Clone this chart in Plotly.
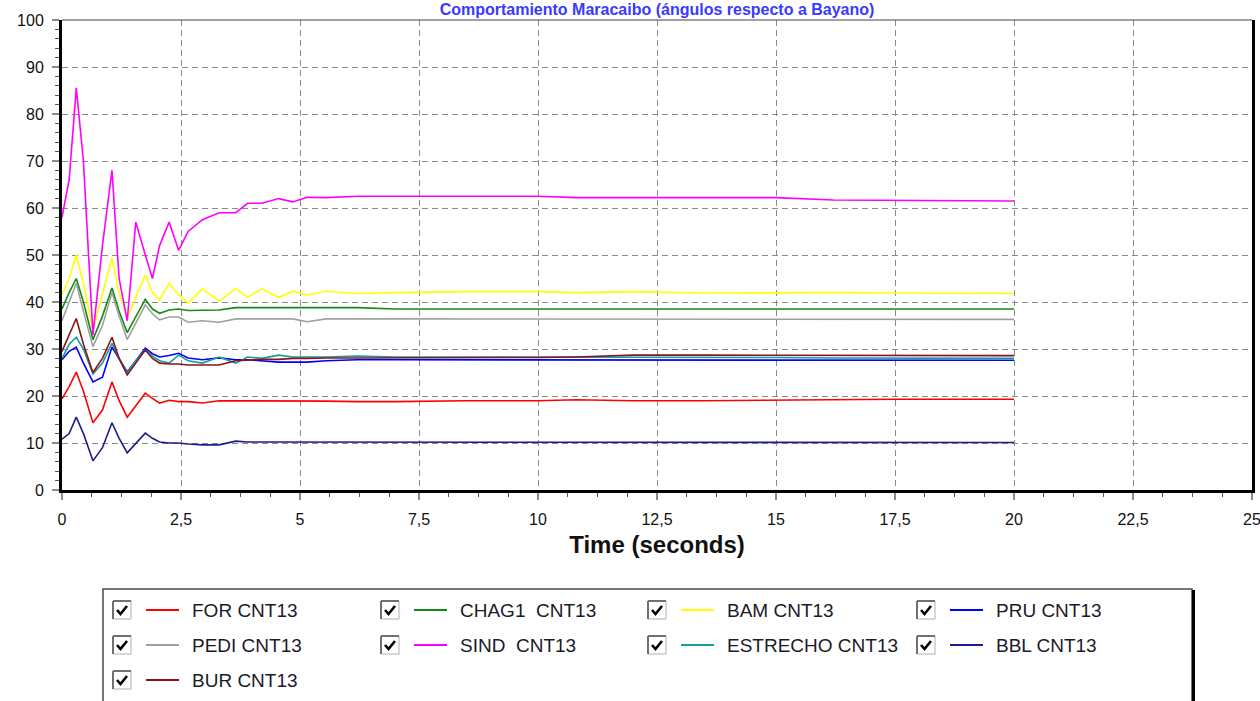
import plotly.graph_objects as go

# Sample times (s) shared by every series
time_s = [0.0, 0.15, 0.3, 0.45, 0.65, 0.85, 1.05, 1.2, 1.37, 1.55, 1.75, 1.9,
          2.05, 2.25, 2.45, 2.65, 2.95, 3.3, 3.65, 3.9, 4.2, 4.55, 4.85, 5.15,
          5.55, 6.2, 7.0, 8.5, 10.0, 10.8, 12.0, 13.5, 15.0, 16.2, 17.5, 20.0]

# Angle of each machine (degrees)
for_cnt13 = [19.4, 22.0, 25.1, 21.0, 14.3, 17.0, 23.0, 19.0, 15.5, 18.0, 20.6, 19.5,
             18.5, 19.1, 18.8, 18.8, 18.5, 19.0, 19.0, 19.0, 19.0, 19.0, 18.9, 18.9,
             18.9, 18.8, 18.8, 19.0, 19.0, 19.2, 19.0, 19.0, 19.1, 19.3, 19.3, 19.3]
chag1_cnt13 = [38.5, 42.0, 45.0, 40.0, 32.0, 37.0, 43.0, 38.0, 33.5, 37.0, 40.6, 38.5,
               37.6, 38.3, 38.5, 38.2, 38.3, 38.3, 38.8, 38.8, 38.8, 38.8, 38.8, 38.8,
               38.8, 38.8, 38.5, 38.5, 38.5, 38.5, 38.5, 38.5, 38.5, 38.5, 38.5, 38.5]
bam_cnt13 = [41.5, 45.0, 50.0, 44.0, 34.0, 42.0, 49.4, 42.0, 36.6, 41.0, 45.7, 42.0,
             40.4, 44.0, 41.5, 39.8, 42.8, 40.2, 42.8, 41.0, 42.8, 41.0, 42.3, 41.5,
             42.3, 41.8, 42.0, 42.2, 42.2, 42.0, 42.2, 41.9, 42.0, 42.0, 41.9, 41.8]
pru_cnt13 = [27.7, 29.5, 30.4, 27.0, 23.0, 24.0, 30.4, 28.0, 25.1, 27.5, 30.2, 29.0,
             28.3, 28.6, 29.1, 28.1, 27.7, 28.1, 27.7, 27.7, 27.5, 27.2, 27.2, 27.2,
             27.5, 27.7, 27.7, 27.7, 27.7, 27.6, 27.6, 27.6, 27.6, 27.6, 27.6, 27.6]
pedi_cnt13 = [36.0, 40.0, 44.0, 38.0, 30.5, 35.0, 42.0, 37.0, 32.0, 35.5, 39.4, 37.5,
              36.2, 36.8, 36.8, 35.7, 36.0, 35.7, 36.4, 36.4, 36.4, 36.4, 36.4, 35.8,
              36.4, 36.4, 36.4, 36.4, 36.4, 36.3, 36.3, 36.3, 36.3, 36.3, 36.3, 36.3]
sind_cnt13 = [58.0, 66.0, 85.5, 70.0, 33.0, 52.0, 68.0, 45.0, 36.0, 57.0, 50.0, 45.0,
              52.0, 57.0, 51.0, 55.0, 57.5, 59.0, 59.0, 61.0, 61.0, 62.0, 61.3, 62.3,
              62.2, 62.5, 62.5, 62.5, 62.5, 62.2, 62.2, 62.2, 62.2, 61.7, 61.6, 61.5]
estrecho_cnt13 = [28.0, 31.0, 32.5, 30.0, 24.7, 27.0, 31.2, 28.0, 24.9, 27.5, 29.8, 28.5,
                  27.5, 27.0, 28.7, 27.5, 27.0, 28.3, 27.0, 28.3, 28.0, 28.7, 28.3, 28.3,
                  28.3, 28.5, 28.3, 28.3, 28.3, 28.3, 28.2, 28.2, 28.2, 28.1, 28.1, 28.0]
bbl_cnt13 = [10.8, 12.0, 15.5, 12.0, 6.2, 9.0, 14.3, 11.0, 7.9, 10.0, 12.1, 11.0,
             10.2, 10.0, 10.0, 9.8, 9.6, 9.6, 10.4, 10.2, 10.2, 10.2, 10.2, 10.2,
             10.2, 10.2, 10.2, 10.2, 10.2, 10.2, 10.2, 10.1, 10.1, 10.1, 10.1, 10.1]
bur_cnt13 = [29.5, 33.0, 36.5, 31.0, 25.0, 28.0, 32.5, 28.0, 24.5, 27.0, 29.8, 28.0,
             27.0, 26.8, 26.8, 26.6, 26.6, 26.6, 27.5, 27.7, 27.8, 27.8, 28.0, 28.0,
             28.1, 28.1, 28.1, 28.2, 28.2, 28.3, 28.7, 28.7, 28.7, 28.7, 28.6, 28.6]

series_names = ["FOR CNT13", "CHAG1  CNT13", "BAM CNT13", "PRU CNT13",
                "PEDI CNT13", "SIND  CNT13", "ESTRECHO CNT13", "BBL CNT13",
                "BUR CNT13"]
series_values = [for_cnt13, chag1_cnt13, bam_cnt13, pru_cnt13,
                 pedi_cnt13, sind_cnt13, estrecho_cnt13, bbl_cnt13, bur_cnt13]
series_colors = ["#ff0000", "#138a13", "#ffff00", "#0000ff",
                 "#a0a0a0", "#ff00ff", "#179c9c", "#1c1c8c", "#8b1414"]

x_ticks = [0, 2.5, 5, 7.5, 10, 12.5, 15, 17.5, 20, 22.5, 25]
y_ticks = [0, 10, 20, 30, 40, 50, 60, 70, 80, 90, 100]

title_text = "Comportamiento Maracaibo (ángulos respecto a Bayano)"
x_title = "Time (seconds)"

W, H = 1260, 701
L, R, T, B = 62, 8, 20, 211
PW, PH = W - L - R, H - T - B


def px(x):
    return (x - L) / PW


def py(y):
    return (H - B - y) / PH


fig = go.Figure()
for name, vals, col in zip(series_names, series_values, series_colors):
    fig.add_trace(go.Scatter(x=time_s, y=vals, mode="lines", name=name,
                             line=dict(color=col, width=1.6),
                             showlegend=False))

FONT = "Liberation Sans, Arial, sans-serif"
grid = dict(showgrid=True, gridcolor="#8a8a8a", gridwidth=1.3, griddash="6px,4px")

fig.update_xaxes(range=[0, 25], tickvals=x_ticks, **grid, zeroline=False,
                 automargin=False, ticklabeloverflow="allow",
                 showline=True, linecolor="black", linewidth=3, mirror=False,
                 ticks="outside", ticklen=7, tickcolor="#8a8a8a", tickwidth=1.5,
                 minor=dict(dtick=0.625, ticks="outside", ticklen=4,
                            tickcolor="#555", tickwidth=1),
                 ticklabelstandoff=6,
                 tickfont=dict(family=FONT, size=16, color="#111"),
                 title=dict(text="<b>" + x_title + "</b>", standoff=9,
                            font=dict(family=FONT, size=24, color="#111")))
fig.update_yaxes(range=[0, 100], tickvals=y_ticks, **grid, zeroline=False,
                 automargin=False,
                 showline=True, linecolor="black", linewidth=3, mirror=True,
                 ticks="outside", ticklen=7, tickcolor="#8a8a8a", tickwidth=1.5,
                 minor=dict(dtick=2, ticks="outside", ticklen=4,
                            tickcolor="#555", tickwidth=1),
                 ticklabelstandoff=5,
                 tickfont=dict(family=FONT, size=16, color="#111"))

shapes = []
annotations = []
# top frame line
shapes.append(dict(type="line", xref="paper", yref="paper", x0=0, x1=1, y0=1, y1=1,
                   line=dict(color="#444", width=1.2)))

# legend panel with check boxes
shapes.append(dict(type="rect", xref="paper", yref="paper",
                   x0=px(103), x1=px(1192), y0=py(589), y1=py(712),
                   line=dict(color="#4a4a4a", width=1.5), fillcolor="white"))
shapes.append(dict(type="line", xref="paper", yref="paper",
                   x0=px(1193.5), x1=px(1193.5), y0=py(590), y1=py(712),
                   line=dict(color="black", width=3)))

col_x = [113, 381, 648, 917]
row_y = [610, 645, 680]
for i, (name, col) in enumerate(zip(series_names, series_colors)):
    r, c = divmod(i, 4)
    x0, yc = col_x[c], row_y[r]
    # check box
    shapes.append(dict(type="rect", xref="paper", yref="paper",
                       x0=px(x0), x1=px(x0 + 18), y0=py(yc - 9), y1=py(yc + 9),
                       line=dict(color="#b0b0b0", width=1), fillcolor="white"))
    shapes.append(dict(type="path", xref="paper", yref="paper",
                       path=f"M {px(x0)},{py(yc - 9)} L {px(x0)},{py(yc + 9)} "
                            f"M {px(x0)},{py(yc - 9)} L {px(x0 + 18)},{py(yc - 9)}",
                       line=dict(color="#707070", width=2)))
    shapes.append(dict(type="path", xref="paper", yref="paper",
                       path=f"M {px(x0 + 4)},{py(yc)} L {px(x0 + 7.5)},{py(yc + 4)} "
                            f"L {px(x0 + 14)},{py(yc - 4)}",
                       line=dict(color="black", width=2.6)))
    # line sample
    shapes.append(dict(type="line", xref="paper", yref="paper",
                       x0=px(x0 + 33), x1=px(x0 + 66), y0=py(yc), y1=py(yc),
                       line=dict(color=col, width=1.8)))
    annotations.append(dict(x=px(x0 + 77), y=py(yc), xref="paper", yref="paper",
                            text=name.replace("  ", "&nbsp; "), showarrow=False,
                            xanchor="left", yanchor="middle",
                            font=dict(family=FONT, size=19, color="#1a1a2a")))

fig.update_layout(
    width=W, height=H, autosize=False,
    margin=dict(l=L, r=R, t=T, b=B, pad=0),
    paper_bgcolor="white", plot_bgcolor="white",
    separators=",.",
    title=dict(text="<b>" + title_text + "</b>", x=0.5, xanchor="center",
               xref="paper", y=1 - 9 / H, yref="container", yanchor="middle",
               font=dict(family=FONT, size=16, color="#3a3aff")),
    shapes=shapes, annotations=annotations,
    showlegend=False,
)

fig.write_html("out.html")
